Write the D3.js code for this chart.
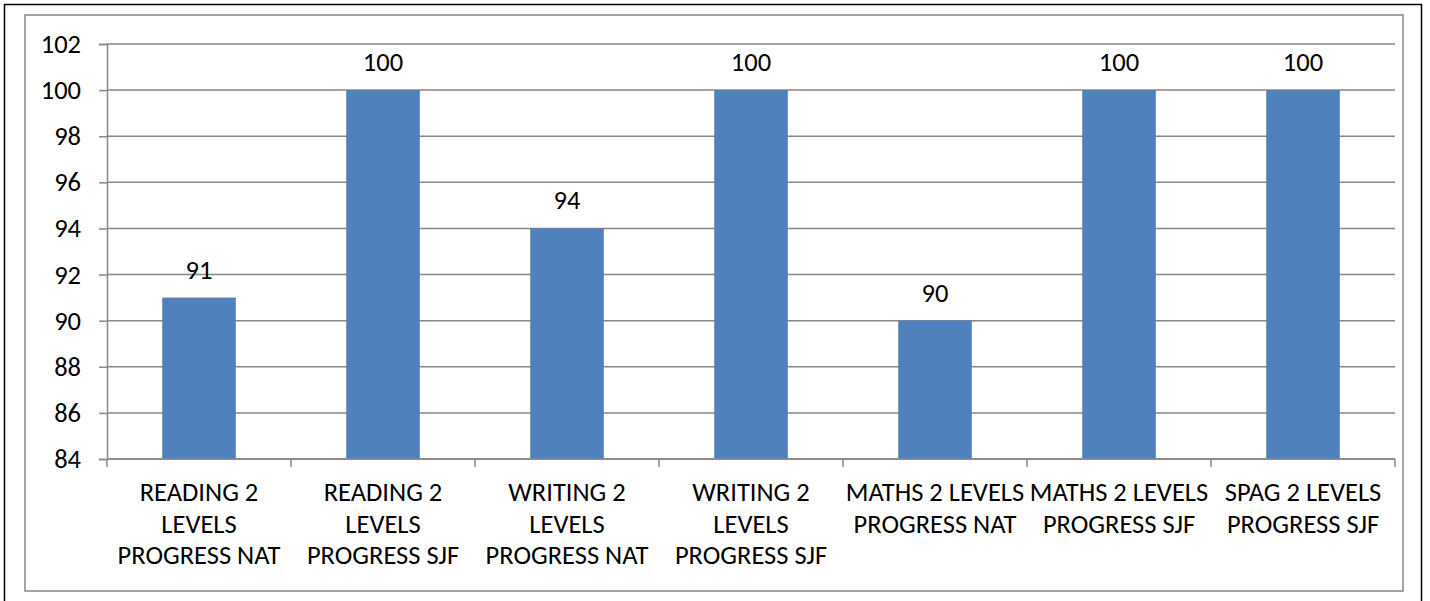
<!DOCTYPE html>
<meta charset="utf-8">
<script src="https://d3js.org/d3.v7.min.js"></script>
<style>
  body { margin: 0; background: #fff; }
  text { font-family: Carlito, Calibri, "Liberation Sans", Arial, sans-serif; fill: #000; }
</style>
<body>
<div id="chart"></div>
</body>
<script>
    // chart data
    const categories = [
      "READING 2 LEVELS PROGRESS NAT",
      "READING 2 LEVELS PROGRESS SJF",
      "WRITING 2 LEVELS PROGRESS NAT",
      "WRITING 2 LEVELS PROGRESS SJF",
      "MATHS 2 LEVELS PROGRESS NAT",
      "MATHS 2 LEVELS PROGRESS SJF",
      "SPAG 2 LEVELS PROGRESS SJF"
    ];
    const labelLines = [
      ["READING 2", "LEVELS", "PROGRESS NAT"],
      ["READING 2", "LEVELS", "PROGRESS SJF"],
      ["WRITING 2", "LEVELS", "PROGRESS NAT"],
      ["WRITING 2", "LEVELS", "PROGRESS SJF"],
      ["MATHS 2 LEVELS", "PROGRESS NAT"],
      ["MATHS 2 LEVELS", "PROGRESS SJF"],
      ["SPAG 2 LEVELS", "PROGRESS SJF"]
    ];
    const values = [91, 100, 94, 100, 90, 100, 100];
    const yTicks = [84, 86, 88, 90, 92, 94, 96, 98, 100, 102];

    const W = 1430, H = 601;
    const margin = {top: 44, right: 35, bottom: 142, left: 107};
    const width = W - margin.left - margin.right,
          height = H - margin.top - margin.bottom;
    const fontSize = 26.5;

    const svg = d3.select("#chart")
      .append("svg")
        .attr("width", W)
        .attr("height", H);

    // outer frame and inner chart border
    svg.append("rect")
      .attr("x", 4.5).attr("y", 4.5)
      .attr("width", 1417).attr("height", 600)
      .attr("fill", "none").attr("stroke", "#000").attr("stroke-width", 1.5);
    svg.append("rect")
      .attr("x", 25).attr("y", 15)
      .attr("width", 1378).attr("height", 576)
      .attr("fill", "none").attr("stroke", "#888").attr("stroke-width", 1.5);

    const g = svg.append("g")
      .attr("transform", `translate(${margin.left}, ${margin.top})`);

    const x = d3.scaleBand()
      .domain(categories)
      .range([0, width])
      .paddingInner(0.6)
      .paddingOuter(0.3);

    const y = d3.scaleLinear()
      .domain([84, 102])
      .range([height, 0]);

    // gridlines
    g.selectAll(".grid")
      .data(yTicks)
      .join("line")
        .attr("class", "grid")
        .attr("x1", 0).attr("x2", width)
        .attr("y1", d => y(d)).attr("y2", d => y(d))
        .attr("stroke", "#888").attr("stroke-width", 1.5);

    // y axis
    const yAxis = g.append("g")
      .call(d3.axisLeft(y).tickValues(yTicks).tickSize(8).tickPadding(18))
    yAxis.select(".domain").attr("stroke", "#888").attr("stroke-width", 1.5);
    yAxis.selectAll(".tick line").attr("stroke", "#888").attr("stroke-width", 1.5);
    yAxis.selectAll(".tick text")
      .style("font-size", fontSize + "px")
      .attr("font-family", null);

    // bars
    g.selectAll(".bar")
      .data(values)
      .join("rect")
        .attr("class", "bar")
        .attr("x", (d, i) => x(categories[i]))
        .attr("width", x.bandwidth())
        .attr("y", d => y(d))
        .attr("height", d => height - y(d))
        .attr("fill", "#4F81BD");

    // x axis: boundary ticks between categories
    const boundaries = d3.range(categories.length + 1).map(i => i * width / categories.length);
    g.append("line")
      .attr("x1", 0).attr("x2", width)
      .attr("y1", height).attr("y2", height)
      .attr("stroke", "#888").attr("stroke-width", 1.5);
    g.selectAll(".xtick")
      .data(boundaries)
      .join("line")
        .attr("class", "xtick")
        .attr("x1", d => d).attr("x2", d => d)
        .attr("y1", height).attr("y2", height + 8)
        .attr("stroke", "#888").attr("stroke-width", 1.5);

    // category labels
    const lineH = 31.5;
    categories.forEach((c, i) => {
      const cx = x(c) + x.bandwidth() / 2;
      const t = g.append("text")
        .attr("text-anchor", "middle")
        .style("font-size", fontSize + "px")
        .attr("x", cx)
        .attr("y", height + 42);
      labelLines[i].forEach((ln, j) => {
        t.append("tspan")
          .attr("x", cx)
          .attr("y", height + 42 + j * lineH)
          .text(ln);
      });
    });

    // value labels
    g.selectAll(".val")
      .data(values)
      .join("text")
        .attr("class", "val")
        .attr("text-anchor", "middle")
        .style("font-size", fontSize + "px")
        .attr("x", (d, i) => x(categories[i]) + x.bandwidth() / 2)
        .attr("y", d => y(d) - 19)
        .text(d => d);
</script>
